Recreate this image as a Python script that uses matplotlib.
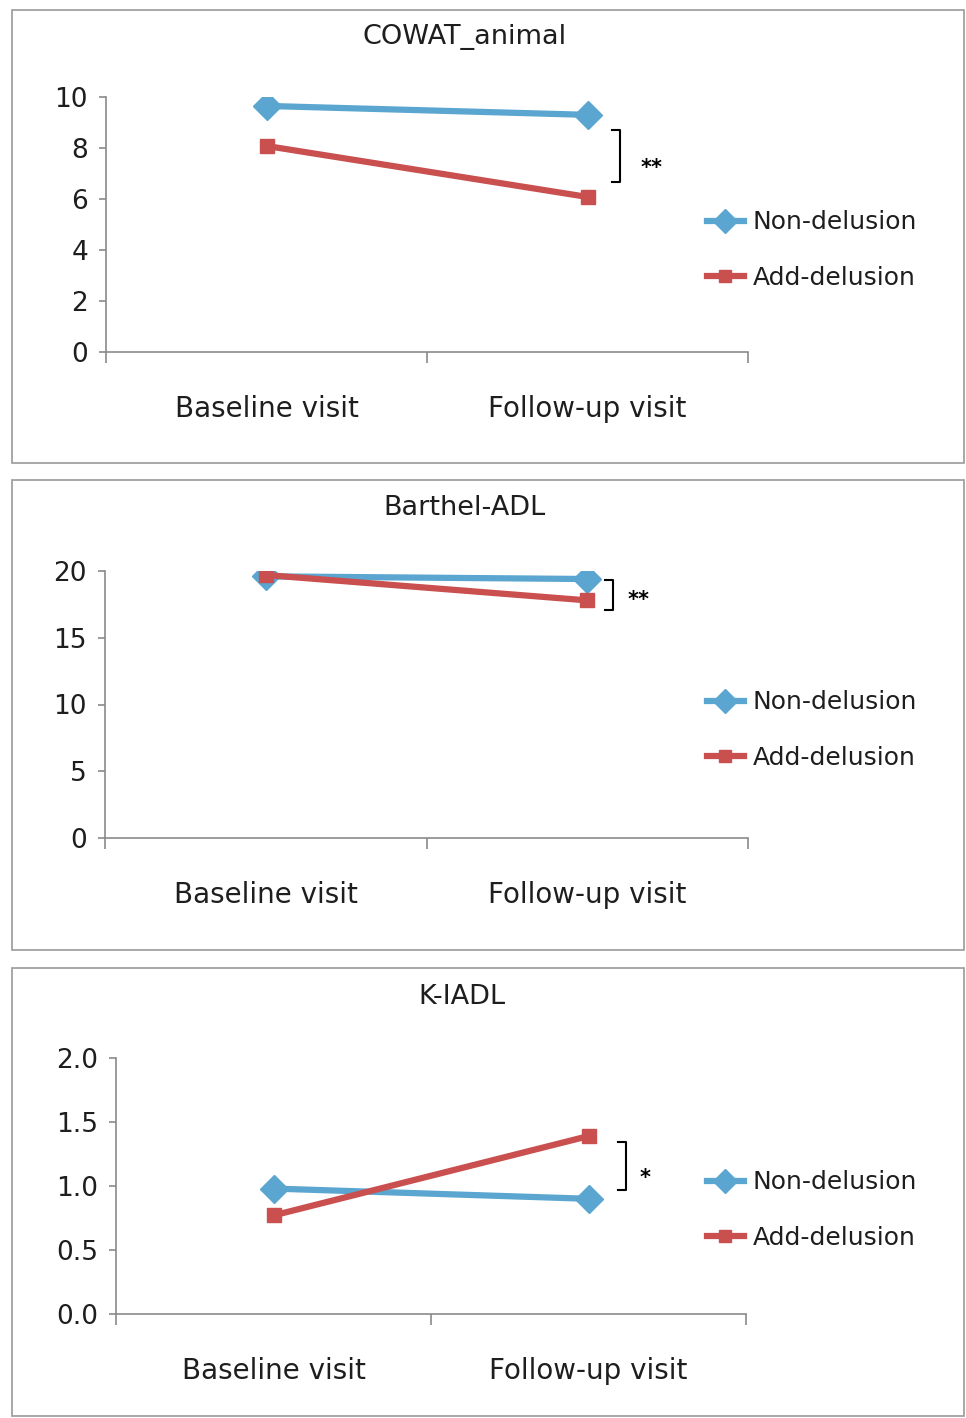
import numpy as np
import matplotlib
matplotlib.use("Agg")
from matplotlib import pyplot as plt
from matplotlib.patches import Rectangle

categories = ["Baseline visit", "Follow-up visit"]
series_names = ["Non-delusion", "Add-delusion"]

titles = ["COWAT_animal", "Barthel-ADL", "K-IADL"]
non_delusion = [[9.65, 9.3], [19.6, 19.4], [0.98, 0.90]]
add_delusion = [[8.08, 6.08], [19.7, 17.8], [0.77, 1.39]]
yticks = [[0, 2, 4, 6, 8, 10], [0, 5, 10, 15, 20], [0.0, 0.5, 1.0, 1.5, 2.0]]
ytick_labels = [["0", "2", "4", "6", "8", "10"],
                ["0", "5", "10", "15", "20"],
                ["0.0", "0.5", "1.0", "1.5", "2.0"]]
signif = ["**", "**", "*"]
# bracket (x, y bottom, y top) and star position per panel
brackets = [(1.10, 6.67, 8.70), (1.08, 17.1, 19.3), (1.12, 0.97, 1.34)]
star_pos = [(1.20, 7.2), (1.16, 17.8), (1.18, 1.06)]

blue = "#5aa6d0"
red = "#c9504f"
grey = "#8a8a8a"
txt = "#1e1e1e"

W, H = 966, 1418
fig = plt.figure(figsize=(W / 100, H / 100), dpi=100)

# panel boxes (pixels: left, top, right, bottom)
boxes = [(12, 10, 964, 463), (12, 480, 964, 950), (12, 968, 964, 1416)]
# axes rect in pixels: left, top, right, bottom
axes_px = [(106, 97, 748, 352), (105, 571, 748, 838), (116, 1058, 746, 1314)]
title_y = [37, 508, 997]
title_x = [465, 464, 462]
legend_y = [250, 730, 1210]

for i in range(3):
    l, t, r, b = boxes[i]
    fig.add_artist(Rectangle((l / W, 1 - b / H), (r - l) / W, (b - t) / H,
                             transform=fig.transFigure, fill=False,
                             edgecolor="#9a9a9a", linewidth=1.2))
    fig.text(title_x[i] / W, 1 - title_y[i] / H, titles[i], fontsize=19.5,
             ha="center", va="center", color=txt)
    al, at, ar, ab = axes_px[i]
    ax = fig.add_axes([al / W, 1 - ab / H, (ar - al) / W, (ab - at) / H])
    x = np.arange(len(categories))
    ax.plot(x, non_delusion[i], color=blue, lw=4.5, marker="D", ms=14,
            label=series_names[0], zorder=3)
    ax.plot(x, add_delusion[i], color=red, lw=4.5, marker="s", ms=10.5,
            label=series_names[1], zorder=3)
    ax.set_xlim(-0.5, 1.5)
    ax.set_ylim(yticks[i][0], yticks[i][-1])
    ax.set_yticks(yticks[i])
    ax.set_yticklabels(ytick_labels[i])
    ax.set_xticks([-0.5, 0.5, 1.5])
    ax.set_xticklabels([])
    ax.set_xticks(x, minor=True)
    ax.set_xticklabels(categories, minor=True)
    ax.tick_params(axis="x", which="minor", length=0, pad=31, labelsize=20,
                   labelcolor=txt)
    ax.tick_params(axis="x", which="major", length=8, color=grey, width=1.2)
    ax.tick_params(axis="y", length=5, color=grey, width=1.2, labelsize=19,
                   pad=8, labelcolor=txt)
    for s in ["top", "right"]:
        ax.spines[s].set_visible(False)
    for s in ["left", "bottom"]:
        ax.spines[s].set_color(grey)
        ax.spines[s].set_linewidth(1.2)
    ax.patch.set_alpha(0)

    bx, y0, y1 = brackets[i]
    hook = 0.025
    ax.plot([bx - hook, bx, bx, bx - hook], [y0, y0, y1, y1], color="black",
            lw=1.5, clip_on=False)
    sx, sy = star_pos[i]
    ax.text(sx, sy, signif[i], fontsize=15, fontweight="bold",
            ha="center", va="center", clip_on=False)

    ax.legend(loc="center left", bbox_to_anchor=(684 / W, 1 - legend_y[i] / H),
              bbox_transform=fig.transFigure, frameon=False, fontsize=18,
              handlelength=1.5, labelspacing=1.25, handletextpad=0.35,
              markerscale=0.85, labelcolor=txt)

fig.savefig("out.png", dpi=100)
